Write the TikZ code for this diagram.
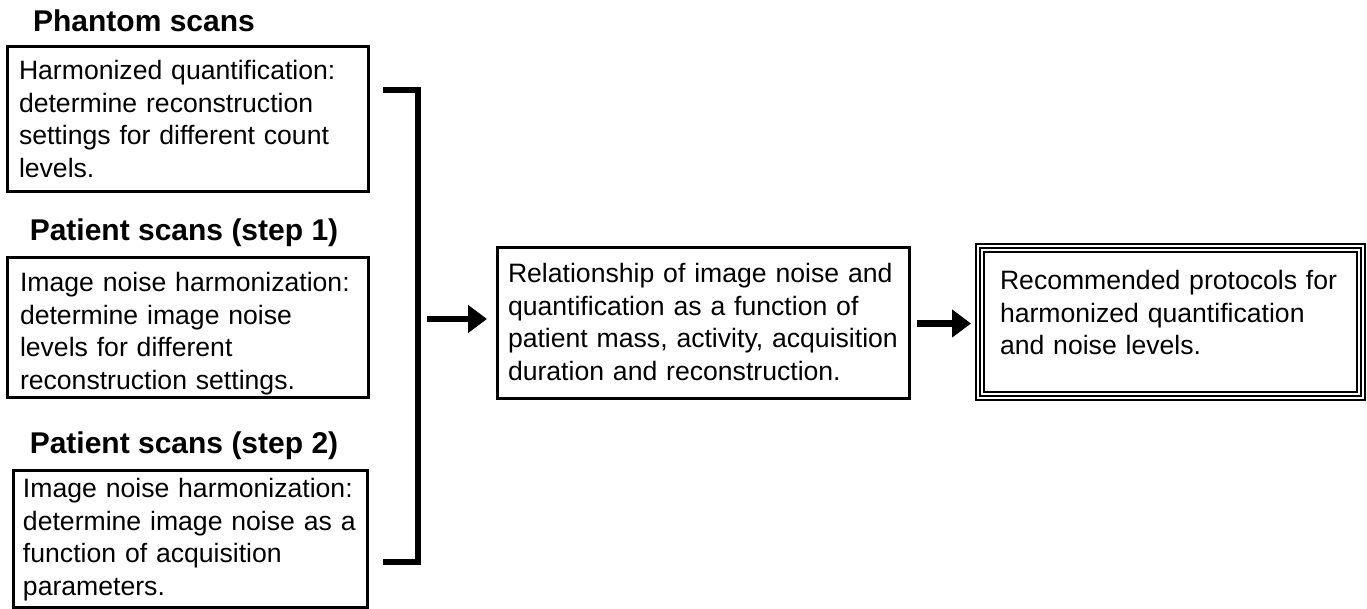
\documentclass[tikz,border=0pt]{standalone}
\usepackage{fontspec}
\setmainfont{Liberation Sans}
\usepackage{tikz}
\usetikzlibrary{arrows.meta}
\tikzstyle{scanbox} = [rectangle, draw=black, line width=1.5pt, outer sep=0pt, inner ysep=0pt, align=left, anchor=north west, font=\fontsize{13.3}{16.2}\selectfont]
\tikzstyle{heading} = [anchor=base, font=\bfseries\fontsize{15}{18}\selectfont]
\tikzstyle{bracket} = [line width=3.2pt]
\tikzstyle{arrow} = [line width=3.2pt, -{Triangle[length=9.5pt,width=13.5pt]}]

\begin{document}
\begin{tikzpicture}[x=0.5pt, y=-0.5pt]
\useasboundingbox (0,0) rectangle (1367,609);
\node (phantomhead) [heading] at (144,32) {Phantom scans};
\node (phantom) [scanbox, inner xsep=6pt, text width=168.5pt, text height=16.5pt, text depth=56pt] at (7,47) {Harmonized quantification:\\determine reconstruction\\settings for different count\\levels.};
\node (stepAhead) [heading] at (184,241) {Patient scans (step 1)};
\node (stepA) [scanbox, inner xsep=6.5pt, text width=167.5pt, text height=17pt, text depth=53pt] at (7,258) {Image noise harmonization:\\determine image noise\\levels for different\\reconstruction settings.};
\node (stepBhead) [heading] at (184,453) {Patient scans (step 2)};
\node (stepB) [scanbox, inner xsep=5pt, text width=167pt, text height=13.5pt, text depth=54.5pt] at (13,471) {Image noise harmonization:\\determine image noise as a\\function of acquisition\\parameters.};
\node (relation) [scanbox, inner xsep=5.5pt, text width=195pt, text height=17.5pt, text depth=58pt] at (497,248) {Relationship of image noise and\\quantification as a function of\\patient mass, activity, acquisition\\duration and reconstruction.};
\node (recommend) [scanbox, line width=1.2pt, inner xsep=12pt, text width=170.5pt, text height=23pt, text depth=55pt] at (976,244) {Recommended protocols for\\harmonized quantification\\and noise levels.};
\draw [line width=1pt] ([shift={(2pt,-2pt)}]recommend.north west) rectangle ([shift={(-2pt,2pt)}]recommend.south east);
\draw [line width=0.9pt] ([shift={(4pt,-4pt)}]recommend.north west) rectangle ([shift={(-4pt,4pt)}]recommend.south east);
% bracket joining the three scan boxes
\coordinate (bracketNW) at (383,90);
\coordinate (bracketNE) at (418,90);
\coordinate (bracketSE) at (418,562);
\coordinate (bracketSW) at (383,562);
\coordinate (merge) at (418,319);
\draw [bracket] (bracketNW) -- (bracketNE) -- (bracketSE) -- (bracketSW);
\draw [arrow, shorten <=4.5pt, shorten >=5pt] (merge) -- (merge -| relation.west);
\draw [arrow, shorten <=4pt, shorten >=2.5pt] (relation.east) -- (relation.east -| recommend.west);
\end{tikzpicture}
\end{document}
